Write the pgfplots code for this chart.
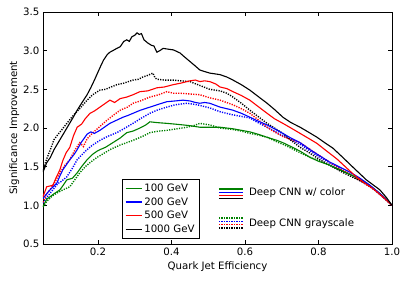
\documentclass[border=0pt]{standalone}
\usepackage{pgfplots}
\pgfplotsset{compat=1.18}
\usepackage{fontspec}
\setmainfont{DejaVu Sans}
\definecolor{mgreen}{rgb}{0,0.5,0}
\newcommand{\ff}{\fontsize{10.2}{12}\selectfont}
\begin{document}
\ff
\begin{tikzpicture}
\begin{axis}[
  at={(0,0)}, anchor=south west,
  scale only axis, width=349pt, height=232pt,
  xmin=0.05, xmax=1.0, ymin=0.5, ymax=3.5,
  xtick={0.2,0.4,0.6,0.8,1.0},
  ytick={0.5,1.0,1.5,2.0,2.5,3.0,3.5},
  /pgf/number format/assume math mode=true,
  /pgf/number format/fixed, /pgf/number format/fixed zerofill, /pgf/number format/precision=1,
  tick label style={font=\ff},
  label style={font=\ff},
  xlabel={Quark Jet Efficiency},
  ylabel={Significance Improvement},
  xlabel style={yshift=1pt},
  ylabel style={yshift=-3pt},
  axis line style={line width=0.8pt},
  major tick length=4pt,
  tick style={black, line width=0.6pt},
  legend cell align=left,
  legend style={at={(0.226,0.022)}, anchor=south west, draw=black, line width=0.8pt,
    font=\ff, row sep=0.6pt, inner sep=2.5pt,
    nodes={inner sep=2pt}},
  legend image code/.code={\draw[#1, line width=1.5pt] (0pt,0pt) -- (16pt,0pt);},
]
% dotted (grayscale)
\addplot[mgreen, line width=1.4pt, dash pattern=on 1.2pt off 1.3pt, forget plot] coordinates {
(0.05,0.98)(0.06,1.05)(0.075,1.12)(0.088,1.16)(0.1,1.19)(0.123,1.24)(0.135,1.32)(0.15,1.42)(0.165,1.50)(0.18,1.56)(0.197,1.62)(0.215,1.67)(0.232,1.72)(0.26,1.78)(0.295,1.84)(0.32,1.89)(0.341,1.94)(0.365,1.96)(0.387,1.97)(0.415,1.99)(0.442,2.01)(0.46,2.03)(0.477,2.06)(0.49,2.05)(0.504,2.04)(0.532,2.00)(0.567,1.98)(0.59,1.96)(0.613,1.93)(0.635,1.91)(0.66,1.88)(0.687,1.82)(0.703,1.79)(0.725,1.74)(0.75,1.68)(0.777,1.62)(0.80,1.58)(0.83,1.52)(0.858,1.46)(0.88,1.41)(0.905,1.35)(0.93,1.28)(0.955,1.19)(0.98,1.09)(1.0,1.0)};
\addplot[blue, line width=1.4pt, dash pattern=on 1.2pt off 1.3pt, forget plot] coordinates {
(0.05,1.03)(0.06,1.10)(0.077,1.20)(0.09,1.28)(0.1,1.31)(0.115,1.37)(0.13,1.48)(0.143,1.59)(0.155,1.65)(0.17,1.72)(0.185,1.78)(0.205,1.84)(0.225,1.89)(0.251,1.94)(0.27,1.99)(0.295,2.06)(0.315,2.12)(0.341,2.19)(0.36,2.23)(0.387,2.27)(0.41,2.30)(0.442,2.32)(0.47,2.30)(0.504,2.26)(0.532,2.21)(0.567,2.17)(0.613,2.13)(0.635,2.07)(0.66,2.01)(0.68,1.96)(0.703,1.90)(0.725,1.85)(0.75,1.79)(0.775,1.71)(0.80,1.63)(0.83,1.55)(0.86,1.47)(0.89,1.39)(0.92,1.30)(0.95,1.21)(0.975,1.11)(1.0,1.0)};
\addplot[red, line width=1.4pt, dash pattern=on 1.2pt off 1.3pt, forget plot] coordinates {
(0.05,1.04)(0.06,1.15)(0.069,1.20)(0.08,1.28)(0.096,1.42)(0.11,1.52)(0.123,1.59)(0.135,1.70)(0.15,1.81)(0.16,1.76)(0.17,1.86)(0.186,1.94)(0.205,2.02)(0.224,2.10)(0.24,2.16)(0.26,2.23)(0.28,2.27)(0.295,2.32)(0.315,2.35)(0.341,2.40)(0.365,2.43)(0.387,2.47)(0.405,2.45)(0.423,2.45)(0.45,2.44)(0.477,2.43)(0.504,2.39)(0.532,2.36)(0.567,2.30)(0.59,2.25)(0.613,2.19)(0.635,2.11)(0.66,2.01)(0.68,1.95)(0.703,1.89)(0.725,1.85)(0.75,1.81)(0.775,1.73)(0.80,1.65)(0.83,1.56)(0.86,1.47)(0.89,1.39)(0.92,1.30)(0.95,1.21)(0.975,1.11)(1.0,1.0)};
\addplot[black, line width=1.4pt, dash pattern=on 1.2pt off 1.3pt, forget plot] coordinates {
(0.05,1.45)(0.06,1.60)(0.07,1.72)(0.08,1.85)(0.088,1.90)(0.10,1.97)(0.115,2.06)(0.13,2.15)(0.15,2.25)(0.17,2.36)(0.185,2.43)(0.205,2.49)(0.22,2.50)(0.235,2.53)(0.251,2.56)(0.27,2.58)(0.295,2.62)(0.31,2.63)(0.322,2.66)(0.335,2.68)(0.349,2.71)(0.355,2.65)(0.36,2.63)(0.38,2.62)(0.404,2.62)(0.425,2.61)(0.45,2.60)(0.477,2.55)(0.504,2.50)(0.532,2.48)(0.55,2.45)(0.567,2.40)(0.59,2.32)(0.613,2.23)(0.635,2.15)(0.66,2.06)(0.68,2.00)(0.703,1.93)(0.725,1.84)(0.75,1.75)(0.775,1.68)(0.80,1.60)(0.83,1.52)(0.86,1.44)(0.89,1.37)(0.93,1.28)(0.965,1.16)(1.0,1.0)};
% solid (color)
\addplot[mgreen, line width=1.1pt] coordinates {
(0.05,0.98)(0.06,1.08)(0.069,1.11)(0.08,1.15)(0.096,1.20)(0.105,1.26)(0.115,1.33)(0.13,1.35)(0.143,1.42)(0.155,1.50)(0.17,1.59)(0.185,1.66)(0.197,1.70)(0.205,1.72)(0.22,1.75)(0.24,1.81)(0.26,1.87)(0.278,1.94)(0.295,1.96)(0.314,2.00)(0.33,2.04)(0.341,2.08)(0.36,2.07)(0.387,2.06)(0.41,2.05)(0.431,2.04)(0.45,2.03)(0.477,2.01)(0.504,2.01)(0.532,2.01)(0.567,1.99)(0.59,1.97)(0.613,1.95)(0.635,1.92)(0.66,1.88)(0.687,1.84)(0.703,1.81)(0.725,1.76)(0.75,1.70)(0.777,1.62)(0.80,1.57)(0.83,1.52)(0.858,1.46)(0.88,1.41)(0.905,1.36)(0.93,1.29)(0.955,1.20)(0.98,1.10)(1.0,1.0)};
\addlegendentry{100 GeV}
\addplot[blue, line width=1.1pt] coordinates {
(0.05,1.09)(0.06,1.15)(0.069,1.20)(0.08,1.25)(0.088,1.29)(0.096,1.38)(0.104,1.46)(0.113,1.52)(0.123,1.59)(0.135,1.66)(0.143,1.72)(0.155,1.82)(0.17,1.92)(0.18,1.95)(0.19,1.93)(0.205,1.97)(0.22,2.02)(0.232,2.06)(0.25,2.10)(0.268,2.14)(0.28,2.16)(0.295,2.19)(0.315,2.23)(0.341,2.27)(0.36,2.30)(0.387,2.34)(0.41,2.35)(0.431,2.36)(0.45,2.35)(0.465,2.33)(0.477,2.32)(0.49,2.33)(0.504,2.32)(0.532,2.27)(0.55,2.25)(0.567,2.23)(0.59,2.19)(0.613,2.14)(0.635,2.09)(0.66,2.04)(0.68,1.99)(0.703,1.93)(0.725,1.87)(0.75,1.81)(0.777,1.72)(0.80,1.65)(0.83,1.56)(0.86,1.49)(0.885,1.43)(0.91,1.36)(0.94,1.26)(0.97,1.14)(1.0,1.0)};
\addlegendentry{200 GeV}
\addplot[red, line width=1.1pt] coordinates {
(0.05,1.11)(0.06,1.24)(0.077,1.26)(0.085,1.35)(0.096,1.46)(0.104,1.58)(0.113,1.68)(0.123,1.75)(0.133,1.90)(0.143,2.01)(0.155,2.05)(0.165,2.12)(0.178,2.19)(0.19,2.22)(0.205,2.27)(0.22,2.32)(0.232,2.36)(0.245,2.33)(0.26,2.38)(0.278,2.40)(0.295,2.43)(0.314,2.47)(0.335,2.48)(0.36,2.52)(0.38,2.53)(0.404,2.56)(0.425,2.58)(0.45,2.61)(0.465,2.62)(0.477,2.60)(0.49,2.61)(0.504,2.60)(0.52,2.57)(0.532,2.53)(0.55,2.51)(0.567,2.47)(0.59,2.42)(0.613,2.36)(0.635,2.28)(0.66,2.19)(0.68,2.12)(0.703,2.06)(0.725,2.00)(0.75,1.93)(0.775,1.86)(0.796,1.80)(0.82,1.71)(0.85,1.60)(0.875,1.49)(0.9,1.38)(0.925,1.29)(0.95,1.21)(0.975,1.11)(1.0,1.0)};
\addlegendentry{500 GeV}
\addplot[black, line width=1.1pt] coordinates {
(0.05,1.43)(0.06,1.55)(0.07,1.62)(0.08,1.72)(0.09,1.80)(0.10,1.88)(0.115,2.00)(0.13,2.12)(0.143,2.23)(0.155,2.32)(0.17,2.43)(0.18,2.52)(0.19,2.62)(0.205,2.78)(0.215,2.88)(0.225,2.95)(0.232,2.98)(0.24,3.00)(0.251,3.03)(0.26,3.05)(0.27,3.12)(0.278,3.14)(0.285,3.12)(0.292,3.18)(0.30,3.20)(0.306,3.23)(0.312,3.21)(0.318,3.22)(0.325,3.14)(0.335,3.10)(0.345,3.07)(0.352,3.06)(0.36,2.98)(0.368,3.00)(0.377,3.03)(0.39,3.02)(0.405,3.01)(0.423,2.97)(0.435,2.92)(0.45,2.86)(0.465,2.80)(0.477,2.75)(0.49,2.73)(0.504,2.71)(0.532,2.69)(0.55,2.66)(0.567,2.62)(0.59,2.56)(0.613,2.49)(0.635,2.41)(0.66,2.32)(0.68,2.24)(0.703,2.14)(0.725,2.07)(0.75,2.01)(0.775,1.94)(0.796,1.88)(0.82,1.80)(0.839,1.74)(0.866,1.62)(0.89,1.51)(0.91,1.42)(0.93,1.33)(0.95,1.26)(0.967,1.20)(0.985,1.10)(1.0,1.0)};
\addlegendentry{1000 GeV}
% second legend (style key)
\draw[mgreen, line width=1.3pt] (rel axis cs:0.504,0.237) -- (rel axis cs:0.573,0.237);
\draw[blue, line width=1.3pt] (rel axis cs:0.504,0.223) -- (rel axis cs:0.573,0.223);
\draw[red, line width=1.3pt] (rel axis cs:0.504,0.209) -- (rel axis cs:0.573,0.209);
\draw[black, line width=1.3pt] (rel axis cs:0.504,0.195) -- (rel axis cs:0.573,0.195);
\node[anchor=west, inner sep=0pt, font=\ff] at (rel axis cs:0.59,0.222) {Deep CNN w/ color};
\draw[mgreen, line width=1.4pt, dash pattern=on 1.2pt off 1.3pt] (rel axis cs:0.504,0.112) -- (rel axis cs:0.573,0.112);
\draw[blue, line width=1.4pt, dash pattern=on 1.2pt off 1.3pt] (rel axis cs:0.504,0.098) -- (rel axis cs:0.573,0.098);
\draw[red, line width=1.4pt, dash pattern=on 1.2pt off 1.3pt] (rel axis cs:0.504,0.083) -- (rel axis cs:0.573,0.083);
\draw[black, line width=1.4pt, dash pattern=on 1.2pt off 1.3pt] (rel axis cs:0.504,0.069) -- (rel axis cs:0.573,0.069);
\node[anchor=west, inner sep=0pt, font=\ff] at (rel axis cs:0.59,0.088) {Deep CNN grayscale};
\end{axis}
\pgfresetboundingbox
\path[use as bounding box] (-43pt,-38pt) rectangle (365pt,244pt);
\end{tikzpicture}
\end{document}
